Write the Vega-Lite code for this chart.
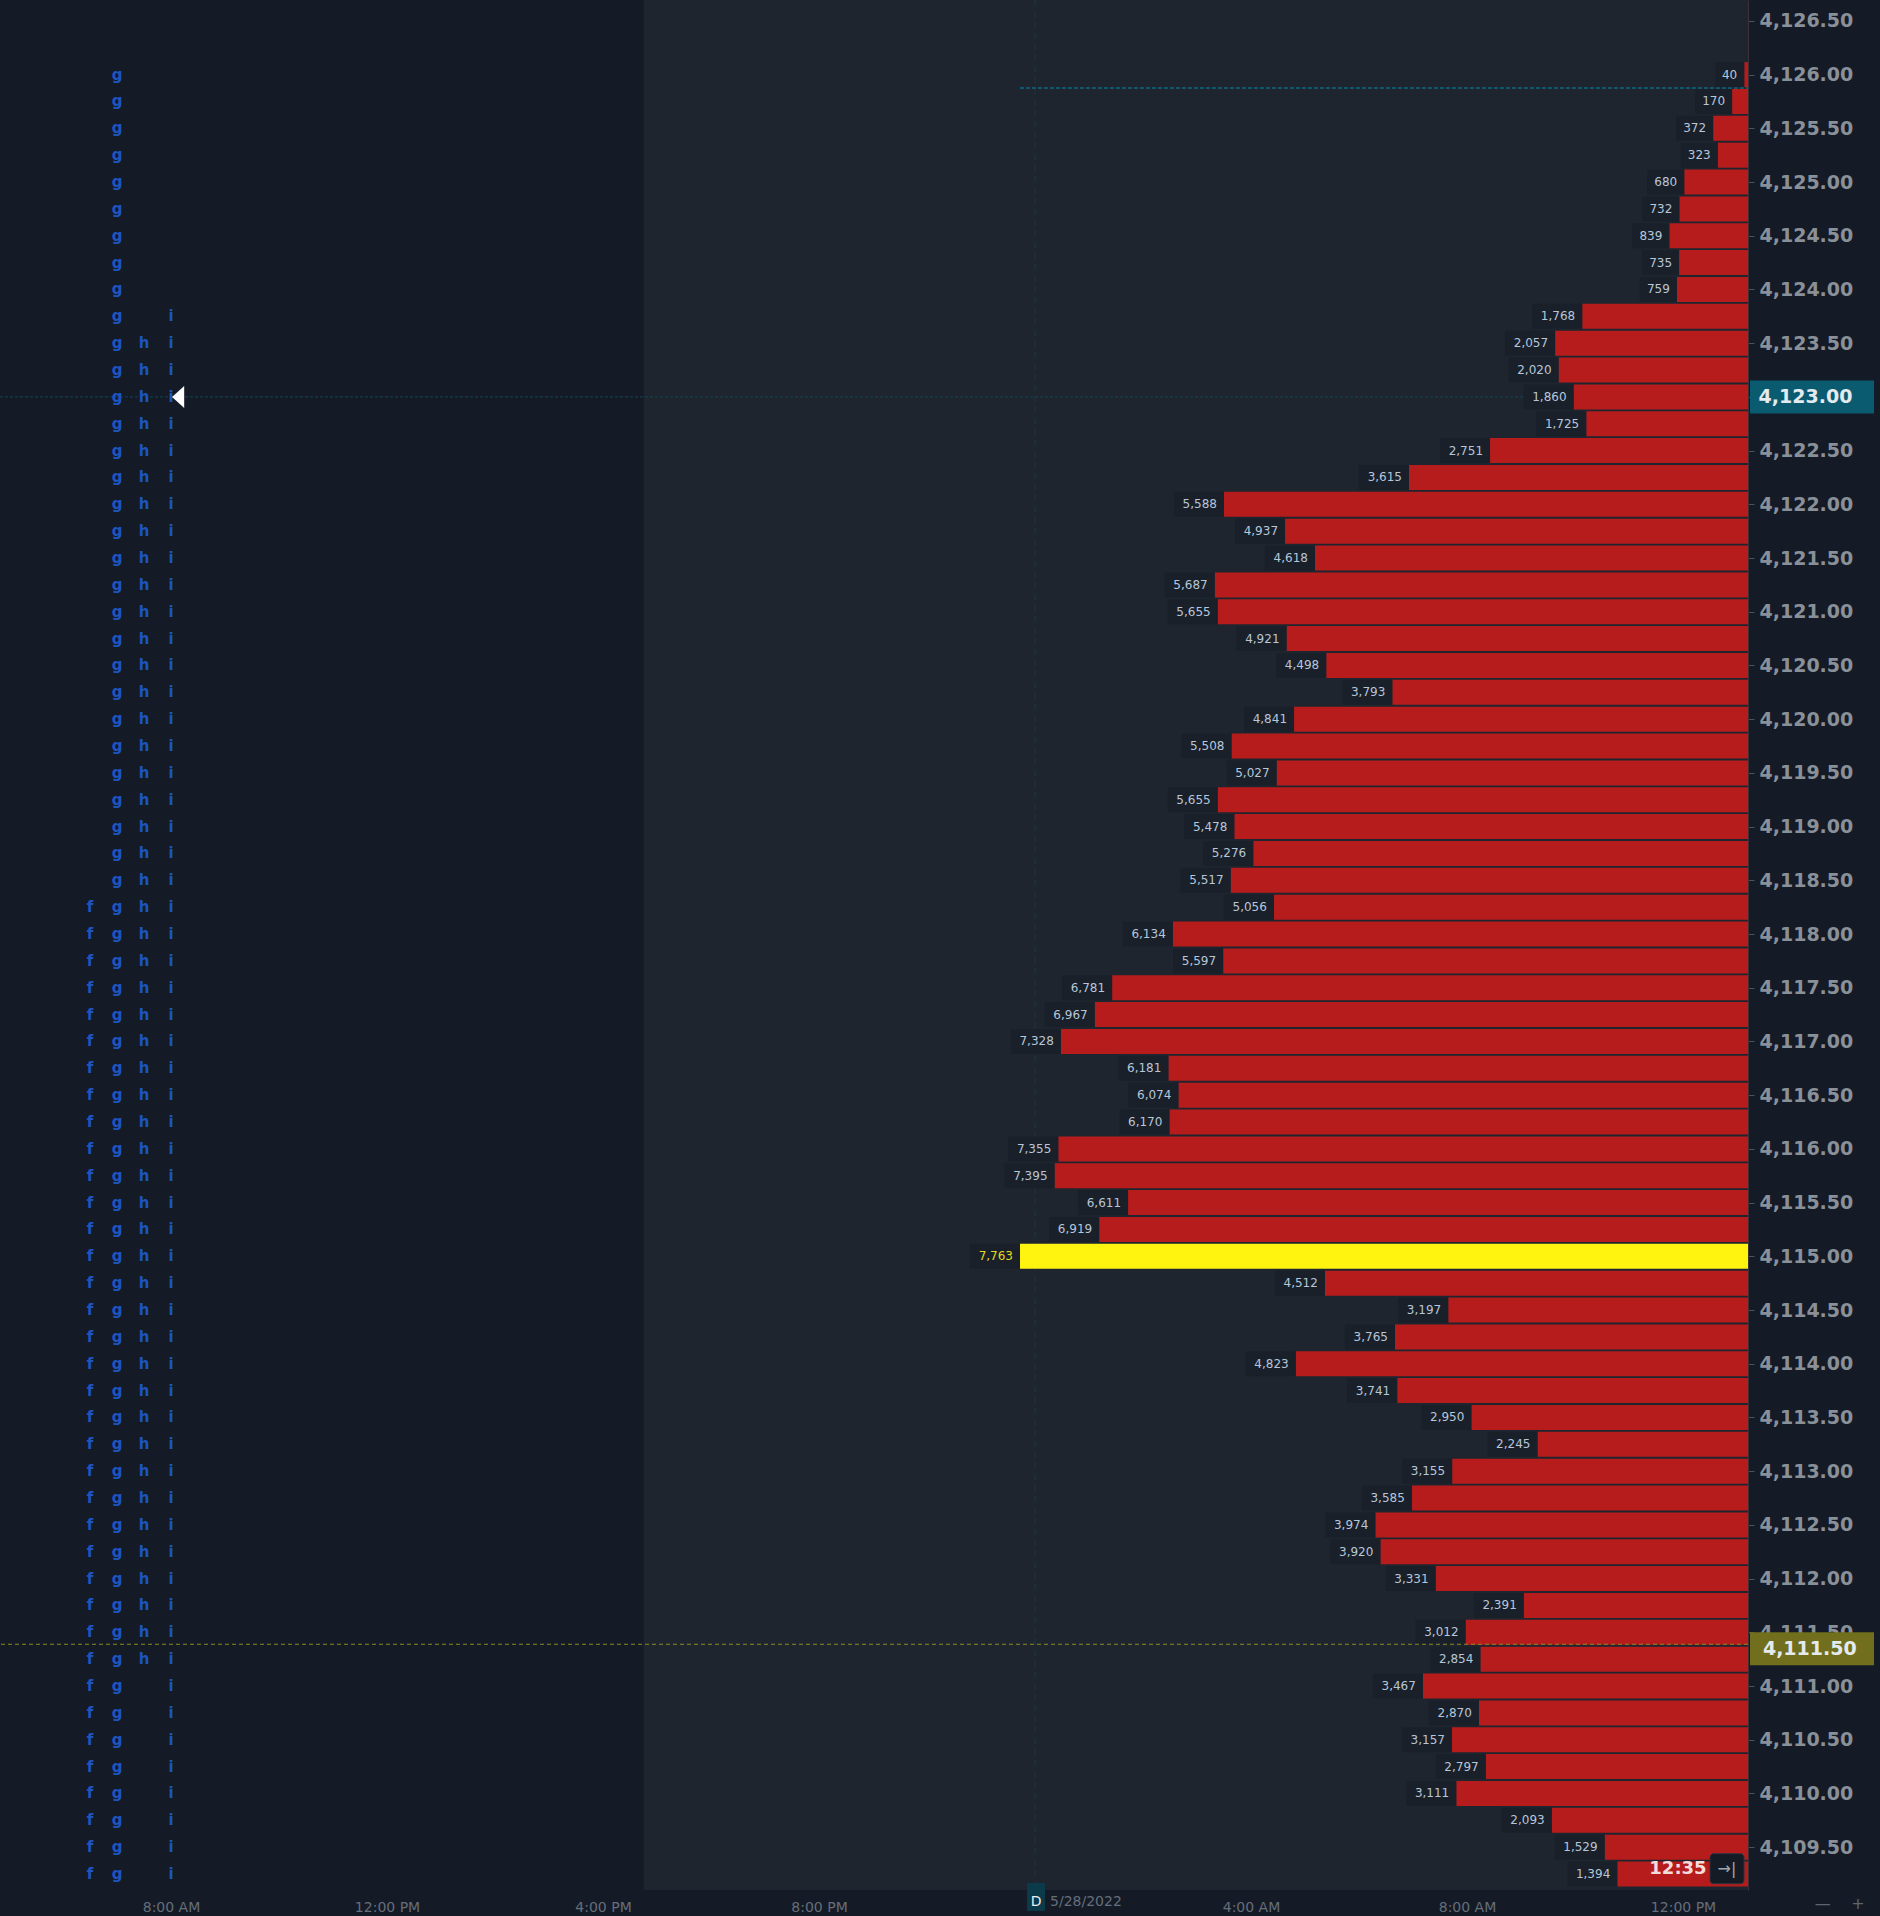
{
  "$schema": "https://vega.github.io/schema/vega-lite/v6.json",
  "description": "Volume profile with TPO letters",
  "autosize": {"type": "none"},
  "width": 1748,
  "height": 1890,
  "padding": {"left": 0, "top": 0, "right": 132, "bottom": 26},
  "background": "#141b27",
  "config": {"view": {"stroke": null}, "font": "DejaVu Sans"},
  "datasets": {
    "profile": [
      {"price": 4126.00, "volume": 40, "tpo": ["g"]},
      {"price": 4125.75, "volume": 170, "tpo": ["g"]},
      {"price": 4125.50, "volume": 372, "tpo": ["g"]},
      {"price": 4125.25, "volume": 323, "tpo": ["g"]},
      {"price": 4125.00, "volume": 680, "tpo": ["g"]},
      {"price": 4124.75, "volume": 732, "tpo": ["g"]},
      {"price": 4124.50, "volume": 839, "tpo": ["g"]},
      {"price": 4124.25, "volume": 735, "tpo": ["g"]},
      {"price": 4124.00, "volume": 759, "tpo": ["g"]},
      {"price": 4123.75, "volume": 1768, "tpo": ["g", "i"]},
      {"price": 4123.50, "volume": 2057, "tpo": ["g", "h", "i"]},
      {"price": 4123.25, "volume": 2020, "tpo": ["g", "h", "i"]},
      {"price": 4123.00, "volume": 1860, "tpo": ["g", "h", "i"]},
      {"price": 4122.75, "volume": 1725, "tpo": ["g", "h", "i"]},
      {"price": 4122.50, "volume": 2751, "tpo": ["g", "h", "i"]},
      {"price": 4122.25, "volume": 3615, "tpo": ["g", "h", "i"]},
      {"price": 4122.00, "volume": 5588, "tpo": ["g", "h", "i"]},
      {"price": 4121.75, "volume": 4937, "tpo": ["g", "h", "i"]},
      {"price": 4121.50, "volume": 4618, "tpo": ["g", "h", "i"]},
      {"price": 4121.25, "volume": 5687, "tpo": ["g", "h", "i"]},
      {"price": 4121.00, "volume": 5655, "tpo": ["g", "h", "i"]},
      {"price": 4120.75, "volume": 4921, "tpo": ["g", "h", "i"]},
      {"price": 4120.50, "volume": 4498, "tpo": ["g", "h", "i"]},
      {"price": 4120.25, "volume": 3793, "tpo": ["g", "h", "i"]},
      {"price": 4120.00, "volume": 4841, "tpo": ["g", "h", "i"]},
      {"price": 4119.75, "volume": 5508, "tpo": ["g", "h", "i"]},
      {"price": 4119.50, "volume": 5027, "tpo": ["g", "h", "i"]},
      {"price": 4119.25, "volume": 5655, "tpo": ["g", "h", "i"]},
      {"price": 4119.00, "volume": 5478, "tpo": ["g", "h", "i"]},
      {"price": 4118.75, "volume": 5276, "tpo": ["g", "h", "i"]},
      {"price": 4118.50, "volume": 5517, "tpo": ["g", "h", "i"]},
      {"price": 4118.25, "volume": 5056, "tpo": ["f", "g", "h", "i"]},
      {"price": 4118.00, "volume": 6134, "tpo": ["f", "g", "h", "i"]},
      {"price": 4117.75, "volume": 5597, "tpo": ["f", "g", "h", "i"]},
      {"price": 4117.50, "volume": 6781, "tpo": ["f", "g", "h", "i"]},
      {"price": 4117.25, "volume": 6967, "tpo": ["f", "g", "h", "i"]},
      {"price": 4117.00, "volume": 7328, "tpo": ["f", "g", "h", "i"]},
      {"price": 4116.75, "volume": 6181, "tpo": ["f", "g", "h", "i"]},
      {"price": 4116.50, "volume": 6074, "tpo": ["f", "g", "h", "i"]},
      {"price": 4116.25, "volume": 6170, "tpo": ["f", "g", "h", "i"]},
      {"price": 4116.00, "volume": 7355, "tpo": ["f", "g", "h", "i"]},
      {"price": 4115.75, "volume": 7395, "tpo": ["f", "g", "h", "i"]},
      {"price": 4115.50, "volume": 6611, "tpo": ["f", "g", "h", "i"]},
      {"price": 4115.25, "volume": 6919, "tpo": ["f", "g", "h", "i"]},
      {"price": 4115.00, "volume": 7763, "tpo": ["f", "g", "h", "i"]},
      {"price": 4114.75, "volume": 4512, "tpo": ["f", "g", "h", "i"]},
      {"price": 4114.50, "volume": 3197, "tpo": ["f", "g", "h", "i"]},
      {"price": 4114.25, "volume": 3765, "tpo": ["f", "g", "h", "i"]},
      {"price": 4114.00, "volume": 4823, "tpo": ["f", "g", "h", "i"]},
      {"price": 4113.75, "volume": 3741, "tpo": ["f", "g", "h", "i"]},
      {"price": 4113.50, "volume": 2950, "tpo": ["f", "g", "h", "i"]},
      {"price": 4113.25, "volume": 2245, "tpo": ["f", "g", "h", "i"]},
      {"price": 4113.00, "volume": 3155, "tpo": ["f", "g", "h", "i"]},
      {"price": 4112.75, "volume": 3585, "tpo": ["f", "g", "h", "i"]},
      {"price": 4112.50, "volume": 3974, "tpo": ["f", "g", "h", "i"]},
      {"price": 4112.25, "volume": 3920, "tpo": ["f", "g", "h", "i"]},
      {"price": 4112.00, "volume": 3331, "tpo": ["f", "g", "h", "i"]},
      {"price": 4111.75, "volume": 2391, "tpo": ["f", "g", "h", "i"]},
      {"price": 4111.50, "volume": 3012, "tpo": ["f", "g", "h", "i"]},
      {"price": 4111.25, "volume": 2854, "tpo": ["f", "g", "h", "i"]},
      {"price": 4111.00, "volume": 3467, "tpo": ["f", "g", "i"]},
      {"price": 4110.75, "volume": 2870, "tpo": ["f", "g", "i"]},
      {"price": 4110.50, "volume": 3157, "tpo": ["f", "g", "i"]},
      {"price": 4110.25, "volume": 2797, "tpo": ["f", "g", "i"]},
      {"price": 4110.00, "volume": 3111, "tpo": ["f", "g", "i"]},
      {"price": 4109.75, "volume": 2093, "tpo": ["f", "g", "i"]},
      {"price": 4109.50, "volume": 1529, "tpo": ["f", "g", "i"]},
      {"price": 4109.25, "volume": 1394, "tpo": ["f", "g", "i"]}
    ],
    "periods": [
      {"letter": "f", "hour": 6.5},
      {"letter": "g", "hour": 7.0},
      {"letter": "h", "hour": 7.5},
      {"letter": "i", "hour": 8.0}
    ]
  },
  "resolve": {"scale": {"x": "independent"}, "axis": {"x": "independent"}},
  "layer": [
    {
      "data": {"values": [{"start": 16.75, "end": 37.2037}]},
      "mark": {"type": "rect", "color": "#1e252f"},
      "encoding": {
        "x": {"field": "start", "type": "quantitative", "scale": {"domain": [4.8333, 37.2037], "nice": false, "zero": false}, "axis": null},
        "x2": {"field": "end"}
      }
    },
    {
      "data": {"values": [{"hour": 24}]},
      "mark": {"type": "rule", "color": "#1b3646", "strokeDash": [6, 5], "strokeWidth": 1},
      "encoding": {
        "x": {"field": "hour", "type": "quantitative", "scale": {"domain": [4.8333, 37.2037], "nice": false, "zero": false}, "axis": null}
      }
    },
    {
      "data": {"values": [{"price": 4123.0}]},
      "mark": {"type": "rule", "color": "#0f4556", "strokeDash": [3, 2], "strokeWidth": 1},
      "encoding": {
        "y": {"field": "price", "type": "quantitative", "scale": {"domain": [4109.148, 4126.648], "nice": false, "zero": false}}
      }
    },
    {
      "data": {"values": [{"price": 4125.875, "from": 23.72, "to": 37.2037}]},
      "mark": {"type": "rule", "color": "#0c6a80", "strokeDash": [4, 2], "strokeWidth": 1.5},
      "encoding": {
        "x": {"field": "from", "type": "quantitative", "scale": {"domain": [4.8333, 37.2037], "nice": false, "zero": false}, "axis": null},
        "x2": {"field": "to"},
        "y": {"field": "price", "type": "quantitative", "scale": {"domain": [4109.148, 4126.648], "nice": false, "zero": false}}
      }
    },
    {
      "data": {"name": "profile"},
      "mark": {"type": "bar", "orient": "horizontal", "height": 25},
      "encoding": {
        "x": {"field": "volume", "type": "quantitative", "scale": {"domain": [0, 18640], "reverse": true, "nice": false}, "axis": null},
        "y": {
          "field": "price", "type": "quantitative",
          "scale": {"domain": [4109.148, 4126.648], "nice": false, "zero": false},
          "axis": {
            "orient": "right", "title": null, "grid": false,
            "values": [4109.5, 4110, 4110.5, 4111, 4111.5, 4112, 4112.5, 4113, 4113.5, 4114, 4114.5, 4115, 4115.5, 4116, 4116.5, 4117, 4117.5, 4118, 4118.5, 4119, 4119.5, 4120, 4120.5, 4121, 4121.5, 4122, 4122.5, 4123, 4123.5, 4124, 4124.5, 4125, 4125.5, 4126, 4126.5],
            "format": ",.2f",
            "labelFont": "DejaVu Sans", "labelFontWeight": "bold", "labelFontSize": 19, "labelColor": "#8a9098",
            "labelPadding": 5, "labelFlush": false, "labelOverlap": false,
            "tickColor": "#4a525c", "tickSize": 6, "domainColor": "#3a3238"
          }
        },
        "color": {
          "condition": {"test": "datum.volume == 7763", "value": "#fff310"},
          "value": "#b71c1c"
        }
      }
    },
    {
      "data": {"name": "profile"},
      "mark": {"type": "point", "filled": true, "size": 2500, "color": "#19202a", "opacity": 1, "strokeWidth": 0},
      "encoding": {
        "x": {"field": "volume", "type": "quantitative", "scale": {"domain": [0, 18640], "reverse": true, "nice": false}, "axis": null},
        "y": {"field": "price", "type": "quantitative", "scale": {"domain": [4109.148, 4126.648], "nice": false, "zero": false}},
        "shape": {
          "condition": [
            {"test": "datum.volume >= 1000", "value": "M-2,-0.5L0,-0.5L0,0.5L-2,0.5Z"},
            {"test": "datum.volume >= 100", "value": "M-1.48,-0.5L0,-0.5L0,0.5L-1.48,0.5Z"}
          ],
          "value": "M-1.16,-0.5L0,-0.5L0,0.5L-1.16,0.5Z"
        }
      }
    },
    {
      "data": {"name": "profile"},
      "mark": {"type": "text", "align": "right", "baseline": "middle", "dx": -7, "font": "DejaVu Sans", "fontSize": 12},
      "encoding": {
        "x": {"field": "volume", "type": "quantitative", "scale": {"domain": [0, 18640], "reverse": true, "nice": false}, "axis": null},
        "y": {"field": "price", "type": "quantitative", "scale": {"domain": [4109.148, 4126.648], "nice": false, "zero": false}},
        "text": {"field": "volume", "type": "quantitative", "format": ","},
        "color": {
          "condition": {"test": "datum.volume == 7763", "value": "#e2da1c"},
          "value": "#b8c6d8"
        }
      }
    },
    {
      "data": {"values": [{"price": 4111.389}]},
      "mark": {"type": "rule", "color": "#8c8a22", "strokeDash": [4, 3], "strokeWidth": 1},
      "encoding": {
        "y": {"field": "price", "type": "quantitative", "scale": {"domain": [4109.148, 4126.648], "nice": false, "zero": false}}
      }
    },
    {
      "data": {"name": "profile"},
      "transform": [
        {"flatten": ["tpo"], "as": ["letter"]},
        {"lookup": "letter", "from": {"data": {"name": "periods"}, "key": "letter", "fields": ["hour"]}}
      ],
      "mark": {"type": "text", "align": "center", "baseline": "alphabetic", "dy": 5, "font": "DejaVu Sans", "fontWeight": "bold", "fontSize": 15, "color": "#1d55c0"},
      "encoding": {
        "x": {
          "field": "hour", "type": "quantitative",
          "scale": {"domain": [4.8333, 37.2037], "nice": false, "zero": false},
          "axis": {
            "title": null, "grid": false, "domain": false, "ticks": false, "tickSize": 0,
            "values": [8, 12, 16, 20, 28, 32, 36],
            "labelExpr": "datum.value % 24 == 12 ? '12:00 PM' : (datum.value % 24 < 12 ? (datum.value % 24) + ':00 AM' : (datum.value % 24 - 12) + ':00 PM')",
            "labelPadding": 10, "labelFont": "DejaVu Sans", "labelFontSize": 14, "labelColor": "#666e79",
            "labelFlush": false, "labelOverlap": false
          }
        },
        "y": {"field": "price", "type": "quantitative", "scale": {"domain": [4109.148, 4126.648], "nice": false, "zero": false}},
        "text": {"field": "letter"}
      }
    },
    {
      "data": {"values": [{"hour": 8.02, "price": 4123.0}]},
      "mark": {"type": "point", "filled": true, "size": 484, "color": "#ffffff", "opacity": 1, "shape": "M0,0L1.1,-1L1.1,1Z"},
      "encoding": {
        "x": {"field": "hour", "type": "quantitative", "scale": {"domain": [4.8333, 37.2037], "nice": false, "zero": false}, "axis": null},
        "y": {"field": "price", "type": "quantitative", "scale": {"domain": [4109.148, 4126.648], "nice": false, "zero": false}}
      }
    },
    {
      "data": {"values": [{"hour": 38.389, "price": 4123.0, "tag": "last"}, {"hour": 38.389, "price": 4111.347, "tag": "current"}]},
      "mark": {"type": "point", "filled": true, "size": 3600, "opacity": 1, "shape": "M-2.067,-0.55L2.067,-0.55L2.067,0.55L-2.067,0.55Z"},
      "encoding": {
        "x": {"field": "hour", "type": "quantitative", "scale": {"domain": [4.8333, 37.2037], "nice": false, "zero": false}, "axis": null},
        "y": {"field": "price", "type": "quantitative", "scale": {"domain": [4109.148, 4126.648], "nice": false, "zero": false}},
        "color": {"condition": {"test": "datum.tag == 'last'", "value": "#0a5a70"}, "value": "#716f1d"}
      }
    },
    {
      "data": {"values": [{"hour": 37.40, "price": 4123.0, "label": "4,123.00"}, {"hour": 37.48, "price": 4111.347, "label": "4,111.50"}]},
      "mark": {"type": "text", "align": "left", "baseline": "middle", "font": "DejaVu Sans", "fontWeight": "bold", "fontSize": 19, "color": "#e4eaee"},
      "encoding": {
        "x": {"field": "hour", "type": "quantitative", "scale": {"domain": [4.8333, 37.2037], "nice": false, "zero": false}, "axis": null},
        "y": {"field": "price", "type": "quantitative", "scale": {"domain": [4109.148, 4126.648], "nice": false, "zero": false}},
        "text": {"field": "label"}
      }
    },
    {
      "data": {"values": [{"hour": 24.02, "price": 4109.037}]},
      "mark": {"type": "point", "filled": true, "size": 400, "opacity": 1, "color": "#0b3b4a", "shape": "M-0.9,-1.4L0.9,-1.4L0.9,1.4L-0.9,1.4Z"},
      "encoding": {
        "x": {"field": "hour", "type": "quantitative", "scale": {"domain": [4.8333, 37.2037], "nice": false, "zero": false}, "axis": null},
        "y": {"field": "price", "type": "quantitative", "scale": {"domain": [4109.148, 4126.648], "nice": false, "zero": false}}
      }
    },
    {
      "data": {"values": [{"hour": 24.02, "price": 4108.99, "label": "D"}, {"hour": 24.278, "price": 4108.99, "label": "5/28/2022"}]},
      "mark": {"type": "text", "align": {"expr": "datum.label == 'D' ? 'center' : 'left'"}, "baseline": "middle", "font": "DejaVu Sans", "fontSize": 14},
      "encoding": {
        "x": {"field": "hour", "type": "quantitative", "scale": {"domain": [4.8333, 37.2037], "nice": false, "zero": false}, "axis": null},
        "y": {"field": "price", "type": "quantitative", "scale": {"domain": [4109.148, 4126.648], "nice": false, "zero": false}},
        "text": {"field": "label"},
        "color": {"condition": {"test": "datum.label == 'D'", "value": "#e8eef2"}, "value": "#666e79"}
      }
    },
    {
      "data": {"values": [{"hour": 36.815, "price": 4109.30}]},
      "mark": {"type": "point", "filled": true, "size": 324, "opacity": 1, "color": "#151b24", "stroke": "#2e3540", "strokeWidth": 1, "shape": "M-1.5,-1.67L1.5,-1.67A0.39,0.39 0 0 1 1.89,-1.28L1.89,1.28A0.39,0.39 0 0 1 1.5,1.67L-1.5,1.67A0.39,0.39 0 0 1 -1.89,1.28L-1.89,-1.28A0.39,0.39 0 0 1 -1.5,-1.67Z"},
      "encoding": {
        "x": {"field": "hour", "type": "quantitative", "scale": {"domain": [4.8333, 37.2037], "nice": false, "zero": false}, "axis": null},
        "y": {"field": "price", "type": "quantitative", "scale": {"domain": [4109.148, 4126.648], "nice": false, "zero": false}}
      }
    },
    {
      "data": {"values": [{"hour": 35.907, "price": 4109.30, "label": "12:35"}]},
      "mark": {"type": "text", "align": "center", "baseline": "middle", "font": "DejaVu Sans", "fontWeight": "bold", "fontSize": 18, "color": "#f4dcdc"},
      "encoding": {
        "x": {"field": "hour", "type": "quantitative", "scale": {"domain": [4.8333, 37.2037], "nice": false, "zero": false}, "axis": null},
        "y": {"field": "price", "type": "quantitative", "scale": {"domain": [4109.148, 4126.648], "nice": false, "zero": false}},
        "text": {"field": "label"}
      }
    },
    {
      "data": {"values": [
        {"hour": 36.815, "price": 4109.30, "label": "→|", "kind": "icon"},
        {"hour": 38.59, "price": 4108.97, "label": "—", "kind": "ctrl"},
        {"hour": 39.24, "price": 4108.97, "label": "+", "kind": "ctrl"}
      ]},
      "mark": {"type": "text", "align": "center", "baseline": "middle", "font": "DejaVu Sans", "fontSize": 16},
      "encoding": {
        "x": {"field": "hour", "type": "quantitative", "scale": {"domain": [4.8333, 37.2037], "nice": false, "zero": false}, "axis": null},
        "y": {"field": "price", "type": "quantitative", "scale": {"domain": [4109.148, 4126.648], "nice": false, "zero": false}},
        "text": {"field": "label"},
        "color": {"condition": {"test": "datum.kind == 'icon'", "value": "#a0a8b2"}, "value": "#5d6570"}
      }
    }
  ]
}
